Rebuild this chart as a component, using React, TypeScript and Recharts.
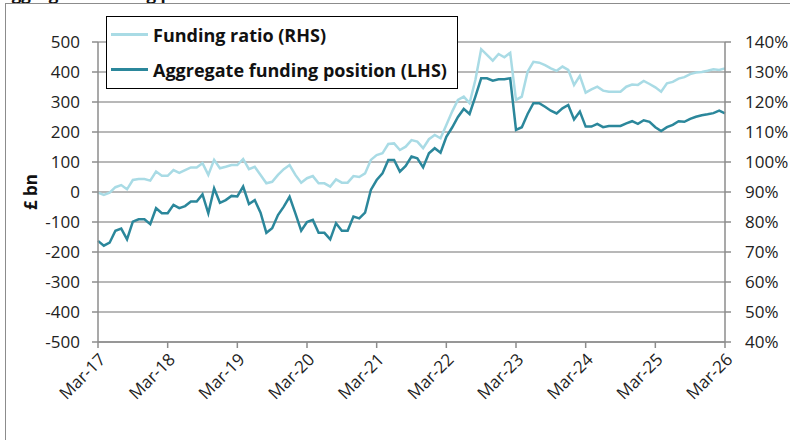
import React from 'react'
import {
  LineChart,
  Line,
  XAxis,
  YAxis,
  CartesianGrid,
  Legend,
} from 'recharts'

const MONTH_NAMES = ['Jan', 'Feb', 'Mar', 'Apr', 'May', 'Jun', 'Jul', 'Aug', 'Sep', 'Oct', 'Nov', 'Dec']

// Monthly categories, Mar-17 .. Mar-26
const months: string[] = []
for (let i = 0; i < 109; i++) {
  const m = (2 + i) % 12
  const y = 17 + Math.floor((2 + i) / 12)
  months.push(`${MONTH_NAMES[m]}-${y}`)
}

// Aggregate funding position, £bn (LHS)
const fundingPosition = [
  -163, -179, -169, -129, -122, -158, -99, -91, -91, -107,
  -54, -71, -71, -43, -54, -47, -32, -32, -8, -71,
  12, -36, -27, -13, -15, 18, -40, -27, -69, -136,
  -121, -77, -49, -16, -71, -129, -100, -93, -136, -136,
  -158, -104, -129, -129, -82, -88, -69, 7, 40, 62,
  107, 107, 68, 87, 118, 112, 82, 129, 146, 131,
  184, 215, 250, 277, 260, 318, 379, 379, 371, 376,
  376, 379, 207, 216, 260, 296, 296, 284, 271, 262,
  279, 290, 242, 268, 218, 218, 227, 216, 220, 220,
  220, 229, 236, 227, 239, 234, 216, 203, 216, 224,
  236, 234, 244, 251, 256, 259, 263, 271, 262,
]

// Funding ratio, % (RHS)
const fundingRatio = [
  89.8, 89.0, 89.8, 91.6, 92.3, 90.9, 94.0, 94.3, 94.3, 93.8,
  96.8, 95.4, 95.4, 97.3, 96.4, 97.3, 98.2, 98.2, 99.6, 95.7,
  100.7, 97.9, 98.4, 99.0, 99.0, 101.0, 97.6, 98.4, 95.7, 92.9,
  93.4, 95.7, 97.6, 99.0, 95.7, 93.1, 94.6, 95.3, 92.9, 92.9,
  91.8, 94.2, 93.1, 93.1, 95.3, 95.0, 96.2, 100.7, 102.3, 102.9,
  106.0, 106.2, 104.0, 105.1, 107.3, 106.8, 104.6, 107.6, 109.0, 107.9,
  112.3, 116.8, 120.7, 121.8, 119.6, 127.3, 137.6, 135.7, 133.8, 136.0,
  134.9, 136.4, 120.7, 121.8, 130.1, 133.4, 133.1, 132.3, 131.2, 130.4,
  131.8, 130.7, 125.7, 128.7, 123.1, 124.2, 125.1, 123.8, 123.4, 123.4,
  123.4, 125.1, 125.8, 125.7, 127.0, 126.0, 124.9, 123.4, 126.2, 126.7,
  127.8, 128.3, 129.3, 129.8, 130.0, 130.4, 130.9, 130.7, 131.2,
]

const leftTicks = [-500, -400, -300, -200, -100, 0, 100, 200, 300, 400, 500]
const rightTicks = [40, 50, 60, 70, 80, 90, 100, 110, 120, 130, 140]

const LIGHT = '#a9dbe5'
const DARK = '#2b879b'
const FONT = '"Open Sans", "Noto Sans", sans-serif'
const TICK_SIZE = 17

const data = months.map((m, i) => ({
  month: m,
  position: fundingPosition[i],
  ratio: fundingRatio[i],
}))

const legendItems = [
  { label: 'Funding ratio (RHS)', color: LIGHT },
  { label: 'Aggregate funding position (LHS)', color: DARK },
]

function LegendBox() {
  return (
    <div
      style={{
        background: '#fff',
        border: '1.5px solid #000',
        boxSizing: 'border-box',
        width: 352,
        height: 73,
        fontFamily: FONT,
        fontWeight: 700,
        fontSize: 18,
        color: '#111',
        whiteSpace: 'nowrap',
      }}
    >
      {legendItems.map((it) => (
        <div key={it.label} style={{ display: 'flex', alignItems: 'center', height: 35 }}>
          <span style={{ display: 'inline-block', width: 37, height: 3, background: it.color, marginLeft: 4, marginRight: 5 }} />
          <span>{it.label}</span>
        </div>
      ))}
    </div>
  )
}

function MonthTick({ x, y, payload }: any) {
  return (
    <text
      x={x}
      y={y}
      dy="0.71em"
      textAnchor="end"
      transform={`rotate(-45 ${x} ${y})`}
      fontSize={TICK_SIZE}
      fontFamily={FONT}
      fill="#222"
    >
      {payload.value}
    </text>
  )
}

export default function App() {
  return (
    <div
      style={{
        position: 'absolute',
        left: 0,
        top: 0,
        width: 790,
        height: 440,
        overflow: 'hidden',
        background: '#fff',
      }}
    >
      <div
        style={{
          position: 'absolute',
          left: 0,
          top: -18,
          fontFamily: FONT,
          fontWeight: 700,
          fontSize: 17,
          color: '#111',
          whiteSpace: 'nowrap',
        }}
      >
        Aggregate funding position
      </div>
      <div
        style={{
          position: 'absolute',
          left: 5,
          top: 3,
          width: 820,
          height: 470,
          border: '1px solid #8c8c8c',
        }}
      />
      <div style={{ position: 'absolute', left: 0, top: 0 }}>
        <LineChart width={790} height={440} data={data} margin={{ top: 42, right: 0, bottom: 8, left: 0 }}>
          <CartesianGrid yAxisId="left" vertical={false} stroke="#a0a0a0" strokeWidth={1.5} />
          <XAxis
            dataKey="month"
            interval={11}
            height={90}
            tickSize={6}
            tickMargin={4}
            stroke="#8c8c8c"
            strokeWidth={1.5}
            tick={<MonthTick />}
          />
          <YAxis
            yAxisId="left"
            domain={[-500, 500]}
            ticks={leftTicks}
            width={98}
            tickSize={6}
            tickMargin={12}
            stroke="#8c8c8c"
            strokeWidth={1.5}
            tick={{ fontSize: TICK_SIZE, fontFamily: FONT, fill: '#222' }}
            label={{
              content: () => (
                <text
                  x={30}
                  y={192}
                  transform="rotate(-90 30 192)"
                  textAnchor="middle"
                  dominantBaseline="central"
                  fontSize={17}
                  fontWeight={700}
                  fontFamily={FONT}
                  fill="#111"
                >
                  £ bn
                </text>
              ),
            }}
          />
          <YAxis
            yAxisId="right"
            orientation="right"
            domain={[40, 140]}
            ticks={rightTicks}
            width={65}
            tickSize={6}
            tickMargin={14}
            stroke="#8c8c8c"
            strokeWidth={1.5}
            tickFormatter={(v: number) => `${v}%`}
            tick={{ fontSize: TICK_SIZE, fontFamily: FONT, fill: '#222' }}
          />
          <Legend
            layout="vertical"
            align="center"
            verticalAlign="middle"
            wrapperStyle={{ position: 'absolute', left: 106, top: 16, width: 352, height: 73 }}
            content={() => <LegendBox />}
          />
          <Line
            yAxisId="right"
            dataKey="ratio"
            stroke={LIGHT}
            strokeWidth={2.5}
            dot={false}
            isAnimationActive={false}
          />
          <Line
            yAxisId="left"
            dataKey="position"
            stroke={DARK}
            strokeWidth={2.5}
            dot={false}
            isAnimationActive={false}
          />
        </LineChart>
      </div>
    </div>
  )
}
